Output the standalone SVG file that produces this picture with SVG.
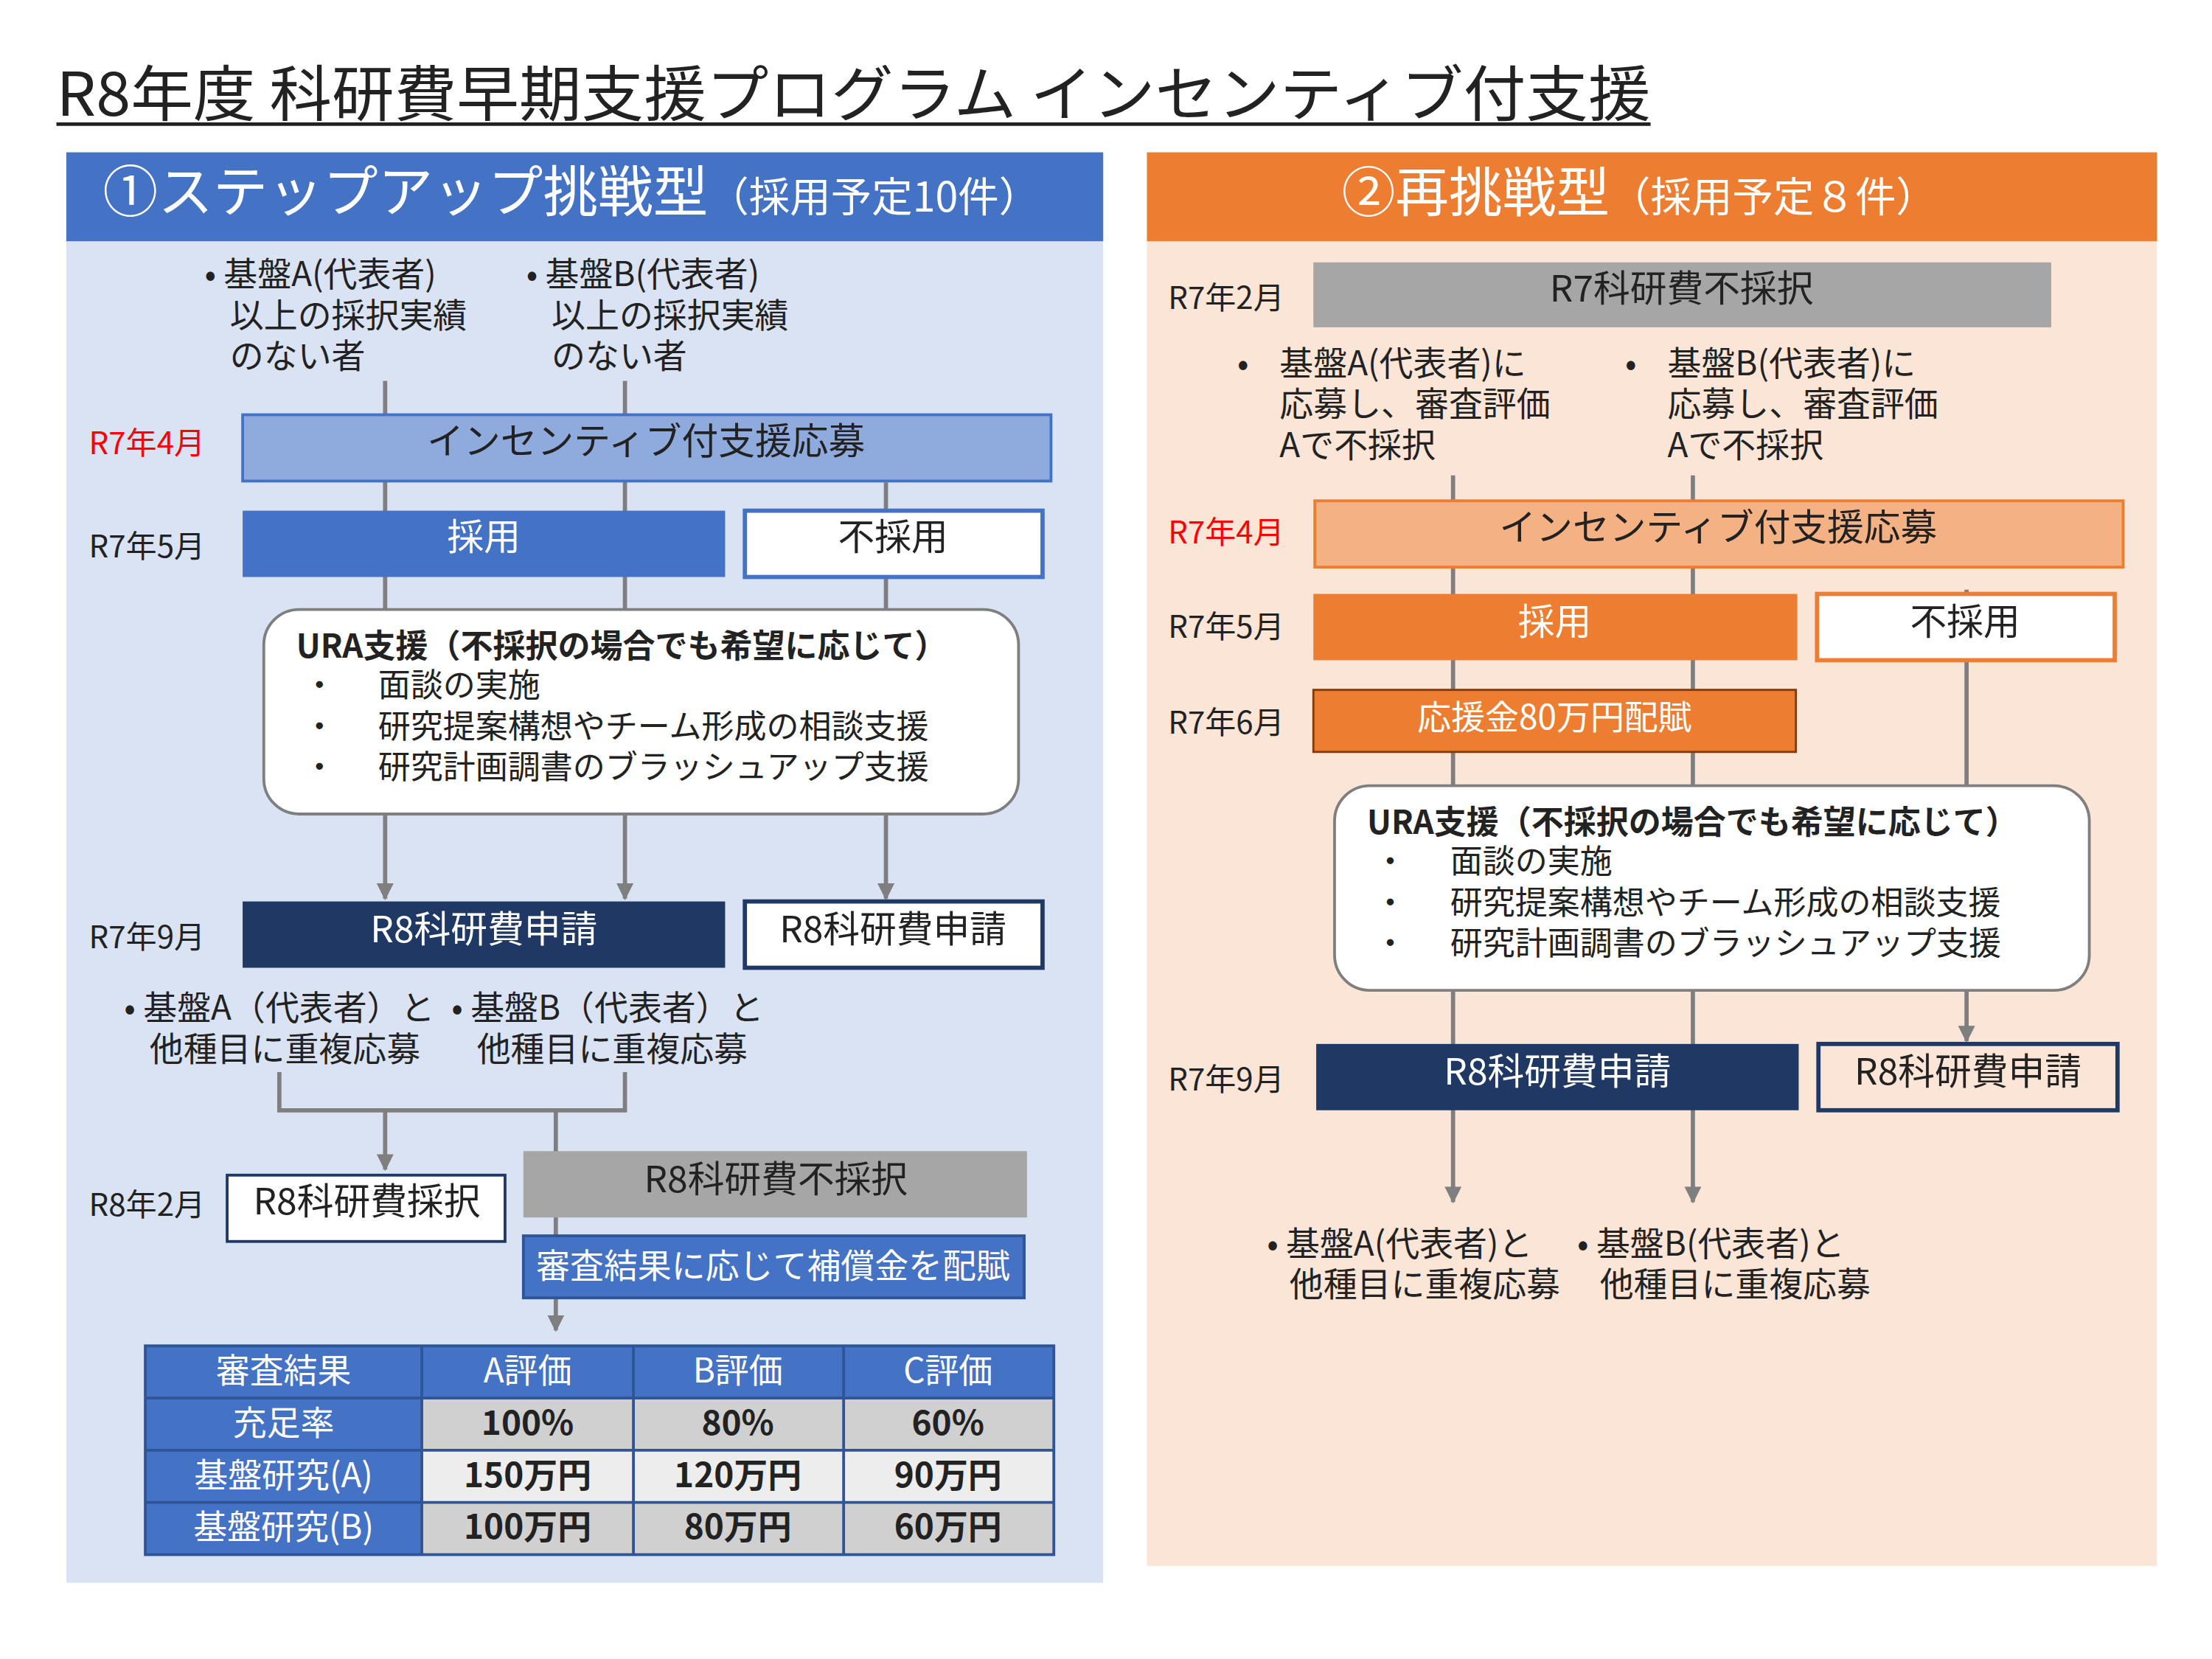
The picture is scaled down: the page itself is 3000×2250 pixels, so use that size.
<svg xmlns="http://www.w3.org/2000/svg" width="3000" height="2250" viewBox="0 0 3000 2250">
<defs>
<marker id="ar" viewBox="0 0 10 10" refX="9" refY="5" markerWidth="4" markerHeight="4" orient="auto"><path d="M0,0L10,5L0,10z" fill="#7f7f7f"/></marker>
<style>
text{font-family:"Noto Sans CJK JP","Noto Sans",sans-serif;font-size:24px;fill:#222}
.m{font-size:22px}
.r{fill:#ff0000}
.w{fill:#fff}
.c{text-anchor:middle}
.b{font-weight:bold}
.u{font-size:23px}
.ln{stroke:#7f7f7f;stroke-width:3;fill:none}
.la{stroke:#7f7f7f;stroke-width:3;fill:none;marker-end:url(#ar)}
.tb{stroke:#2f5597;stroke-width:2}
</style>
</defs>
<rect width="3000" height="2250" fill="#fff"/>
<g transform="scale(1.9133)">
<g id="title"><text x="40" y="82" style="font-size:43px" textLength="1130" lengthAdjust="spacingAndGlyphs">R8年度 科研費早期支援プログラム インセンティブ付支援</text><line x1="40" y1="88" x2="1170" y2="88" stroke="#222" stroke-width="2.5"/></g>
<g id="leftPanel">
<rect x="47" y="108" width="735" height="1014" fill="#dae3f3"/>
<rect x="47" y="108" width="735" height="63" fill="#4472c4"/>
<text x="405" y="150" class="c w" style="font-size:39px">①ステップアップ挑戦型<tspan style="font-size:29px">（採用予定10件）</tspan></text>
</g>
<g id="rightPanel">
<rect x="813" y="108" width="716" height="1002" fill="#fbe5d6"/>
<rect x="813" y="108" width="716" height="63" fill="#ed7d31"/>
<text x="1162" y="150" class="c w" style="font-size:38px">②再挑戦型<tspan style="font-size:29px">（採用予定８件）</tspan></text>
</g>
<g id="connectors">
<line class="ln" x1="273" y1="270" x2="273" y2="294"/><line class="ln" x1="443" y1="270" x2="443" y2="294"/>
<line class="la" x1="273" y1="341" x2="273" y2="637"/><line class="la" x1="443" y1="341" x2="443" y2="637"/>
<line class="la" x1="628" y1="342" x2="628" y2="637"/>
<polyline class="ln" points="198,760 198,787 443,787 443,760"/>
<line class="la" x1="273" y1="787" x2="273" y2="829"/>
<line class="la" x1="394" y1="787" x2="394" y2="943"/>
<line class="la" x1="1030" y1="337" x2="1030" y2="852"/><line class="la" x1="1200" y1="337" x2="1200" y2="852"/>
<line class="la" x1="1394" y1="418" x2="1394" y2="738"/>
</g>
<g id="leftNodes">
<text x="145" y="203">• 基盤A(代表者)</text><text x="163" y="232">以上の採択実績</text><text x="163" y="261">のない者</text>
<text x="373" y="203">• 基盤B(代表者)</text><text x="391" y="232">以上の採択実績</text><text x="391" y="261">のない者</text>
<text x="63" y="322" class="m r">R7年4月</text>
<rect x="172" y="294" width="573" height="47" fill="#8faadc" stroke="#4472c4" stroke-width="2"/>
<text x="458" y="322" class="c" style="font-size:26px">インセンティブ付支援応募</text>
<text x="63" y="395" class="m">R7年5月</text>
<rect x="172" y="362" width="342" height="47" fill="#4472c4"/><text x="343" y="390" class="c w" style="font-size:26px">採用</text>
<rect x="528" y="362" width="211" height="47" fill="#fff" stroke="#4472c4" stroke-width="3"/><text x="633" y="390" class="c" style="font-size:26px">不採用</text>
<rect x="187" y="432" width="535" height="145" rx="25" fill="#fff" stroke="#7f7f7f" stroke-width="2"/>
<text x="210" y="466" class="b u">URA支援（不採択の場合でも希望に応じて）</text>
<text x="215" y="494" class="u">・</text><text x="268" y="494" class="u">面談の実施</text>
<text x="215" y="523" class="u">・</text><text x="268" y="523" class="u">研究提案構想やチーム形成の相談支援</text>
<text x="215" y="552" class="u">・</text><text x="268" y="552" class="u">研究計画調書のブラッシュアップ支援</text>
<text x="63" y="672" class="m">R7年9月</text>
<rect x="172" y="639" width="342" height="47" fill="#1f3864"/><text x="343" y="668" class="c w" style="font-size:26px">R8科研費申請</text>
<rect x="528" y="639" width="211" height="47" fill="#fff" stroke="#1f3864" stroke-width="3"/><text x="633" y="668" class="c" style="font-size:26px">R8科研費申請</text>
<text x="88" y="723">• 基盤A（代表者）と</text><text x="106" y="752">他種目に重複応募</text>
<text x="320" y="723">• 基盤B（代表者）と</text><text x="338" y="752">他種目に重複応募</text>
<text x="63" y="862" class="m">R8年2月</text>
<rect x="161" y="833" width="197" height="47" fill="#fff" stroke="#1f3864" stroke-width="2"/><text x="260" y="861" class="c" style="font-size:26px">R8科研費採択</text>
<rect x="371" y="816" width="357" height="47" fill="#a6a6a6"/><text x="550" y="845" class="c" style="font-size:26px">R8科研費不採択</text>
<rect x="371" y="876" width="355" height="44" fill="#4472c4" stroke="#2f5597" stroke-width="2"/><text x="548" y="906" class="c w">審査結果に応じて補償金を配賦</text>
</g>
<g id="table">
<rect x="103" y="954" width="644" height="37" fill="#4472c4"/>
<rect x="103" y="991" width="196" height="111" fill="#4472c4"/>
<rect x="299" y="991" width="448" height="37" fill="#d0d0d0"/>
<rect x="299" y="1028" width="448" height="37" fill="#ededed"/>
<rect x="299" y="1065" width="448" height="37" fill="#d0d0d0"/>
<g class="tb"><rect x="103" y="954" width="644" height="148" fill="none"/>
<line x1="103" y1="991" x2="747" y2="991"/><line x1="103" y1="1028" x2="747" y2="1028"/><line x1="103" y1="1065" x2="747" y2="1065"/>
<line x1="299" y1="954" x2="299" y2="1102"/><line x1="449" y1="954" x2="449" y2="1102"/><line x1="598" y1="954" x2="598" y2="1102"/></g>
<text x="201" y="980" class="c w">審査結果</text><text x="374" y="980" class="c w">A評価</text><text x="523" y="980" class="c w">B評価</text><text x="672" y="980" class="c w">C評価</text>
<text x="201" y="1017" class="c w">充足率</text><text x="374" y="1017" class="c b">100%</text><text x="523" y="1017" class="c b">80%</text><text x="672" y="1017" class="c b">60%</text>
<text x="201" y="1054" class="c w">基盤研究(A)</text><text x="374" y="1054" class="c b">150万円</text><text x="523" y="1054" class="c b">120万円</text><text x="672" y="1054" class="c b">90万円</text>
<text x="201" y="1091" class="c w">基盤研究(B)</text><text x="374" y="1091" class="c b">100万円</text><text x="523" y="1091" class="c b">80万円</text><text x="672" y="1091" class="c b">60万円</text>
</g>
<g id="rightNodes">
<text x="828" y="219" class="m">R7年2月</text>
<rect x="931" y="186" width="523" height="46" fill="#a6a6a6"/><text x="1192" y="214" class="c" style="font-size:26px">R7科研費不採択</text>
<text x="877" y="266">•</text><text x="907" y="266">基盤A(代表者)に</text><text x="907" y="295">応募し、審査評価</text><text x="907" y="324">Aで不採択</text>
<text x="1152" y="266">•</text><text x="1182" y="266">基盤B(代表者)に</text><text x="1182" y="295">応募し、審査評価</text><text x="1182" y="324">Aで不採択</text>
<text x="828" y="385" class="m r">R7年4月</text>
<rect x="932" y="355" width="573" height="47" fill="#f4b183" stroke="#ed7d31" stroke-width="2"/><text x="1218" y="383" class="c" style="font-size:26px">インセンティブ付支援応募</text>
<text x="828" y="452" class="m">R7年5月</text>
<rect x="931" y="421" width="343" height="47" fill="#ed7d31"/><text x="1102" y="450" class="c w" style="font-size:26px">採用</text>
<rect x="1288" y="421" width="211" height="47" fill="#fff" stroke="#ed7d31" stroke-width="3"/><text x="1393" y="450" class="c" style="font-size:26px">不採用</text>
<text x="828" y="520" class="m">R7年6月</text>
<rect x="931" y="489" width="342" height="44" fill="#ed7d31" stroke="#843c0c" stroke-width="1.5"/><text x="1102" y="517" class="c w">応援金80万円配賦</text>
<rect x="946" y="557" width="535" height="145" rx="25" fill="#fff" stroke="#7f7f7f" stroke-width="2"/>
<text x="969" y="591" class="b u">URA支援（不採択の場合でも希望に応じて）</text>
<text x="974" y="619" class="u">・</text><text x="1028" y="619" class="u">面談の実施</text>
<text x="974" y="648" class="u">・</text><text x="1028" y="648" class="u">研究提案構想やチーム形成の相談支援</text>
<text x="974" y="677" class="u">・</text><text x="1028" y="677" class="u">研究計画調書のブラッシュアップ支援</text>
<text x="828" y="773" class="m">R7年9月</text>
<rect x="933" y="740" width="342" height="47" fill="#1f3864"/><text x="1104" y="769" class="c w" style="font-size:26px">R8科研費申請</text>
<rect x="1289" y="740" width="212" height="47" fill="#fbe5d6" stroke="#1f3864" stroke-width="3"/><text x="1395" y="769" class="c" style="font-size:26px">R8科研費申請</text>
<text x="898" y="890">• 基盤A(代表者)と</text><text x="914" y="919">他種目に重複応募</text>
<text x="1118" y="890">• 基盤B(代表者)と</text><text x="1134" y="919">他種目に重複応募</text>
</g>
</g>
</svg>
